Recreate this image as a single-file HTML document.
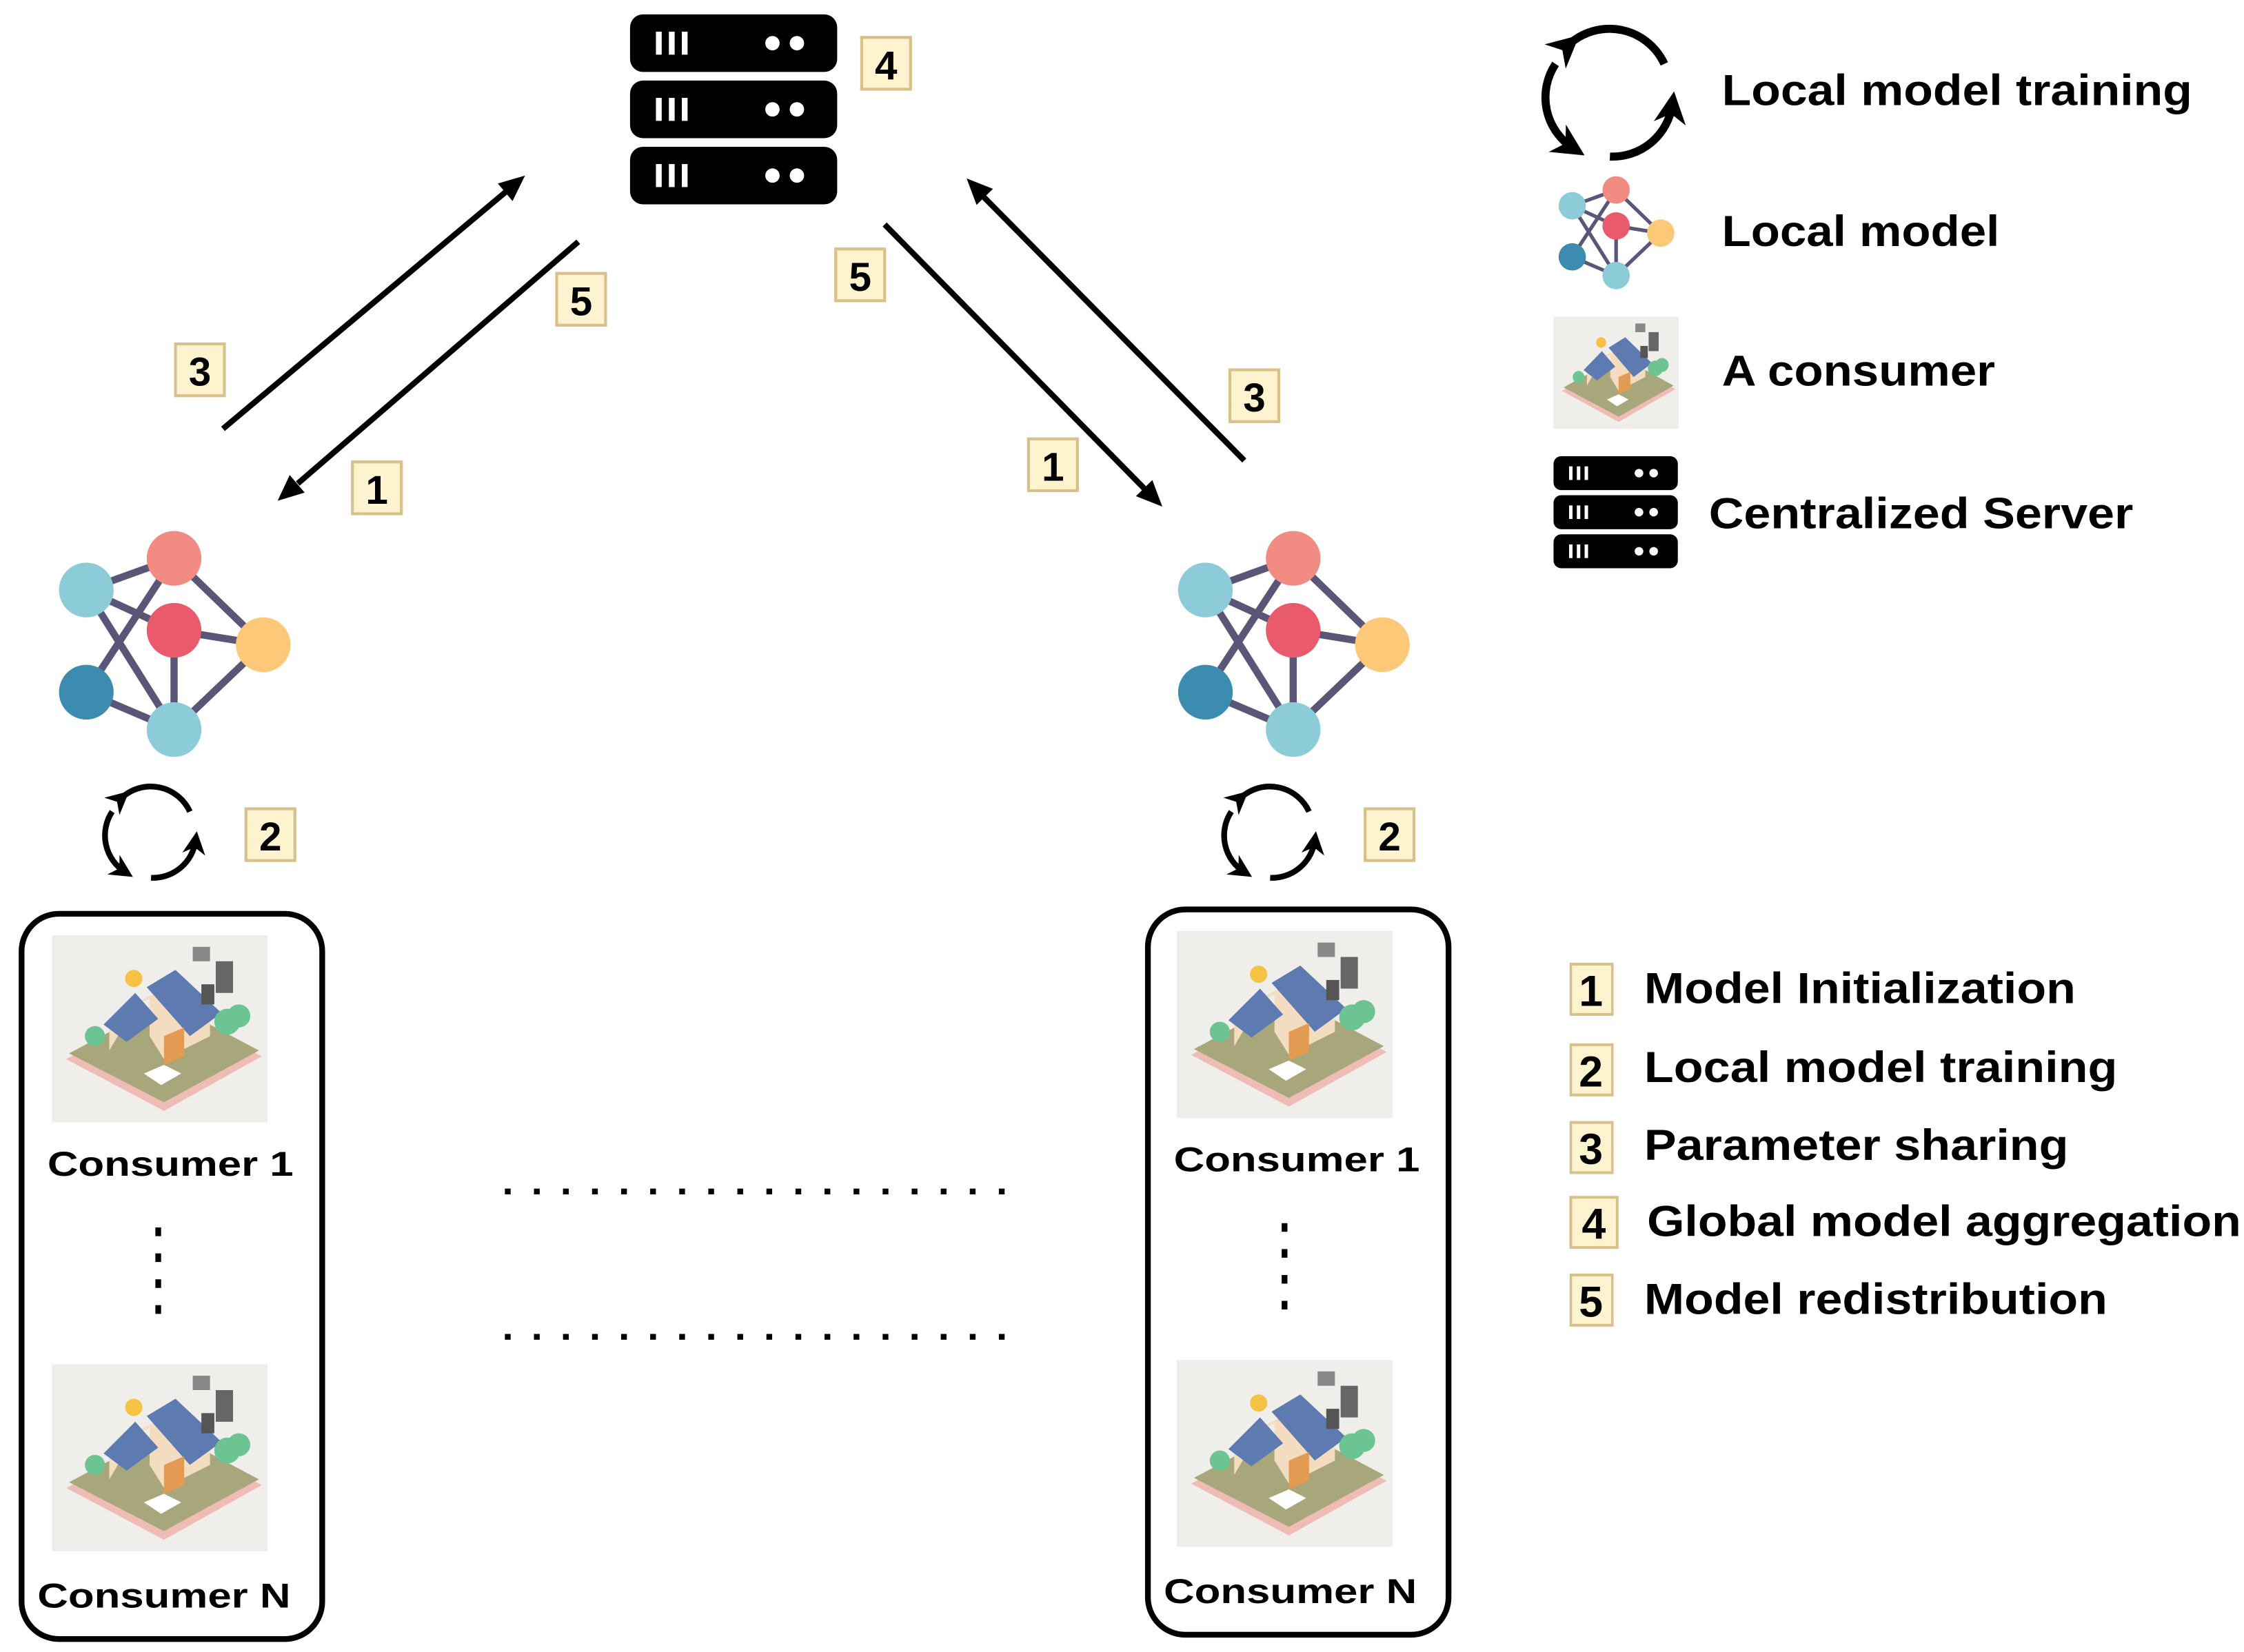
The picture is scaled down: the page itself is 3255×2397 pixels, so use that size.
<!DOCTYPE html>
<html><head><meta charset="utf-8"><style>
html,body{margin:0;padding:0;background:#fff}
svg{display:block}
text{font-family:"Liberation Sans",sans-serif;font-weight:bold;fill:#000}
</style></head><body>
<svg width="3255" height="2397" viewBox="0 0 1560 1148" preserveAspectRatio="none" xmlns="http://www.w3.org/2000/svg">
<defs>
<marker id="ah2" viewBox="0 0 10 10" refX="6" refY="5" markerWidth="4" markerHeight="4" orient="auto"><path d="M0,0 L10,5 L0,10 L3,5 Z" fill="#000"/></marker>
<g id="srvrow">
<rect x="0" y="0" width="144" height="40" rx="9" fill="#000"/>
<rect x="18" y="12" width="4" height="16" fill="#fff"/><rect x="27" y="12" width="4" height="16" fill="#fff"/><rect x="36" y="12" width="4" height="16" fill="#fff"/>
<circle cx="99" cy="20" r="5" fill="#fff"/><circle cx="116" cy="20" r="5" fill="#fff"/>
</g>
<g id="server"><use href="#srvrow"/><use href="#srvrow" y="46"/><use href="#srvrow" y="92"/></g>
<g id="net">
<g stroke="#5b5577" stroke-width="5">
<line x1="20" y1="40" x2="81" y2="18"/><line x1="20" y1="40" x2="81" y2="68"/><line x1="20" y1="40" x2="81" y2="137"/>
<line x1="81" y1="18" x2="20" y2="111"/><line x1="81" y1="18" x2="143" y2="78"/><line x1="81" y1="68" x2="143" y2="78"/>
<line x1="81" y1="68" x2="81" y2="137"/><line x1="20" y1="111" x2="81" y2="137"/><line x1="143" y1="78" x2="81" y2="137"/>
</g>
<circle cx="81" cy="18" r="19" fill="#f28b82"/><circle cx="20" cy="40" r="19" fill="#8ccbd8"/>
<circle cx="81" cy="68" r="19" fill="#e85a6c"/><circle cx="143" cy="78" r="19" fill="#fdc878"/>
<circle cx="20" cy="111" r="19" fill="#3c8cb0"/><circle cx="81" cy="137" r="19" fill="#8ccbd8"/>
</g>
<g id="cycle" fill="none" stroke="#000" stroke-width="4">
<path d="M-22,-24 A30,30 0 0 1 25,-14" marker-start="url(#ah2)"/>
<path d="M-29,-14 A30,30 0 0 0 -20,28" marker-end="url(#ah2)"/>
<path d="M-2,32 A30,30 0 0 0 29,6" marker-end="url(#ah2)"/>
</g>
<g id="house">
<rect x="0" y="0" width="150" height="130" fill="#efeeeb"/>
<polygon points="10,86 80,50 146,84 78,122" fill="#eebcb5"/>
<polygon points="12,82 80,46 144,80 78,116" fill="#a8a77c"/>
<polygon points="40,80 40,58 68,44 68,70 78,86 110,70 110,48 84,34 60,46" fill="#f3dcc0"/>
<polygon points="36,62 58,40 74,58 52,74" fill="#5d7bb0"/>
<polygon points="66,36 86,24 118,54 96,70" fill="#5d7bb0"/>
<polygon points="78,70 78,90 92,84 92,64" fill="#e39a52"/>
<circle cx="57" cy="30" r="6" fill="#f5c242"/>
<circle cx="122" cy="60" r="9" fill="#6cc492"/><circle cx="130" cy="56" r="8" fill="#6cc492"/>
<circle cx="30" cy="70" r="7" fill="#6cc492"/>
<rect x="114" y="18" width="12" height="22" fill="#666"/><rect x="98" y="8" width="12" height="10" fill="#888"/><rect x="104" y="34" width="9" height="14" fill="#555"/>
<polygon points="64,96 78,90 90,96 76,104" fill="#fff"/>
</g>
<g id="badge"><rect x="0" y="0" width="34" height="36" fill="#fdf3cf" stroke="#d8c08a" stroke-width="2"/></g>
</defs>

<!-- server -->
<use href="#server" x="438" y="10"/>
<use href="#badge" x="599" y="26"/><text x="616" y="55" font-size="28" text-anchor="middle">4</text>

<!-- arrows -->
<g stroke="#000" stroke-width="4" fill="none">
<line x1="155" y1="298" x2="352" y2="133"/>
<line x1="402" y1="168" x2="207" y2="336"/>
<line x1="615" y1="156" x2="796" y2="340"/>
<line x1="865" y1="320" x2="684" y2="137"/>
</g>
<g fill="#000">
<polygon points="365,122 356.3,139.7 351.2,133.6 346.1,127.5"/>
<polygon points="193,348 211.8,342.3 206.6,336.2 201.4,330.1"/>
<polygon points="808,352 789.7,344.8 795.4,339.2 801.1,333.6"/>
<polygon points="672,124 690.3,131.2 684.6,136.8 678.9,142.4"/>
</g>
<use href="#badge" x="122" y="239"/><text x="139" y="268" font-size="28" text-anchor="middle">3</text>
<use href="#badge" x="387" y="190"/><text x="404" y="219" font-size="28" text-anchor="middle">5</text>
<use href="#badge" x="245" y="321"/><text x="262" y="350" font-size="28" text-anchor="middle">1</text>
<use href="#badge" x="581" y="173"/><text x="598" y="202" font-size="28" text-anchor="middle">5</text>
<use href="#badge" x="855" y="257"/><text x="872" y="286" font-size="28" text-anchor="middle">3</text>
<use href="#badge" x="715" y="305"/><text x="732" y="334" font-size="28" text-anchor="middle">1</text>

<!-- networks -->
<use href="#net" x="40" y="370"/>
<use href="#net" x="818" y="370"/>

<!-- cycles -->
<use href="#cycle" x="107" y="578"/>
<use href="#cycle" x="885" y="578"/>
<use href="#badge" x="171" y="562"/><text x="188" y="591" font-size="28" text-anchor="middle">2</text>
<use href="#badge" x="949" y="562"/><text x="966" y="591" font-size="28" text-anchor="middle">2</text>

<!-- consumer boxes -->
<rect x="15" y="635" width="209" height="504" rx="26" fill="none" stroke="#000" stroke-width="4"/>
<rect x="798" y="632" width="209" height="504" rx="26" fill="none" stroke="#000" stroke-width="4"/>
<use href="#house" x="36" y="650"/>
<use href="#house" x="36" y="948"/>
<use href="#house" x="818" y="647"/>
<use href="#house" x="818" y="945"/>
<text x="33" y="817" font-size="24" textLength="171" lengthAdjust="spacingAndGlyphs">Consumer 1</text>
<text x="26" y="1117" font-size="24" textLength="176" lengthAdjust="spacingAndGlyphs">Consumer N</text>
<text x="816" y="814" font-size="24" textLength="171" lengthAdjust="spacingAndGlyphs">Consumer 1</text>
<text x="809" y="1114" font-size="24" textLength="176" lengthAdjust="spacingAndGlyphs">Consumer N</text>

<!-- dots -->
<g stroke="#000" stroke-width="4" stroke-dasharray="6 12">
<line x1="110" y1="853" x2="110" y2="922"/>
<line x1="893" y1="850" x2="893" y2="919"/>
</g>
<g stroke="#000" stroke-width="4" stroke-dasharray="4 16.2">
<line x1="351" y1="828" x2="700" y2="828"/>
<line x1="351" y1="929" x2="700" y2="929"/>
</g>

<!-- legend top -->
<g transform="translate(1122,64) scale(1.4)"><use href="#cycle"/></g>
<text x="1197" y="73" font-size="30" textLength="327" lengthAdjust="spacingAndGlyphs">Local model training</text>
<g transform="translate(1083,123) scale(0.5)"><use href="#net"/></g>
<text x="1197" y="171" font-size="30" textLength="193" lengthAdjust="spacingAndGlyphs">Local model</text>
<g transform="translate(1080,220) scale(0.58,0.6)"><use href="#house"/></g>
<text x="1197" y="268" font-size="30" textLength="190" lengthAdjust="spacingAndGlyphs">A consumer</text>
<g transform="translate(1080,317) scale(0.6,0.59)"><use href="#server"/></g>
<text x="1188" y="367" font-size="30" textLength="295" lengthAdjust="spacingAndGlyphs">Centralized Server</text>

<!-- legend bottom -->
<g transform="translate(1092,670) scale(0.85,0.97)"><use href="#badge"/></g><text x="1106" y="699" font-size="30" text-anchor="middle">1</text>
<text x="1143" y="697" font-size="30" textLength="300" lengthAdjust="spacingAndGlyphs">Model Initialization</text>
<g transform="translate(1092,726) scale(0.85,0.97)"><use href="#badge"/></g><text x="1106" y="755" font-size="30" text-anchor="middle">2</text>
<text x="1143" y="752" font-size="30" textLength="329" lengthAdjust="spacingAndGlyphs">Local model training</text>
<g transform="translate(1092,780) scale(0.85,0.97)"><use href="#badge"/></g><text x="1106" y="809" font-size="30" text-anchor="middle">3</text>
<text x="1143" y="806" font-size="30" textLength="295" lengthAdjust="spacingAndGlyphs">Parameter sharing</text>
<g transform="translate(1092,832) scale(0.95,0.97)"><use href="#badge"/></g><text x="1108" y="861" font-size="30" text-anchor="middle">4</text>
<text x="1145" y="859" font-size="30" textLength="413" lengthAdjust="spacingAndGlyphs">Global model aggregation</text>
<g transform="translate(1092,886) scale(0.85,0.97)"><use href="#badge"/></g><text x="1106" y="915" font-size="30" text-anchor="middle">5</text>
<text x="1143" y="913" font-size="30" textLength="322" lengthAdjust="spacingAndGlyphs">Model redistribution</text>
</svg>
</body></html>
